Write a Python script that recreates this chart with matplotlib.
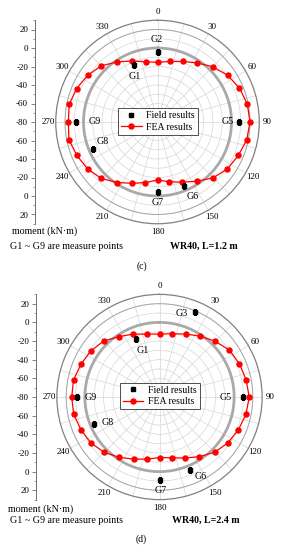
import numpy as np
import matplotlib
matplotlib.use('Agg')
import matplotlib.pyplot as plt

plt.rcParams['font.family'] = ['Liberation Serif', 'DejaVu Serif']

# FEA results, 32 points every 11.25 deg (clockwise from top)
fea_angles = np.arange(32) * 11.25
fea_c = [-15.5, -13.3, -9.2, -3.1, 4.4, 11.1, 15.9, 19.0, 20.0, 18.4, 14.6, 11.0,
         5.3, -3.0, -9.6, -14.1, -17.3, -13.2, -8.3, -1.3, 6.2, 11.0, 14.4, 17.6,
         16.4, 17.3, 14.6, 10.8, 5.9, -1.8, -8.6, -13.6]
fea_d = [-12.5, -10.9, -6.9, -1.6, 4.5, 10.2, 12.8, 14.6, 16.2, 14.5, 11.6, 8.3,
         3.7, -3.1, -9.2, -13.6, -15.0, -12.2, -7.9, -2.2, 3.9, 8.5, 11.3, 13.8,
         14.1, 13.9, 11.3, 8.6, 4.8, -2.1, -7.0, -11.3]

# field measurements
names_c = ['G1', 'G2', 'G5', 'G6', 'G7', 'G8', 'G9']
field_ang_c = [337.5, 0, 90, 157.5, 180, 247.5, 270]
field_c = [-13.2, -4.6, 8.4, -4.6, -4.6, -4.7, 8.1]

names_d = ['G1', 'G3', 'G5', 'G6', 'G7', 'G8', 'G9']
field_ang_d = [337.5, 22.5, 90, 157.5, 180, 247.5, 270]
field_d = [-12.9, 18.2, 9.2, 4.4, 8.5, -4.5, 8.1]

# label offsets (points) for the G labels
offs_c = [(0.5, -8), (-0.7, 9.5), (-8.5, 0), (6, -7), (0, -8), (7, 5), (13.5, 0)]
offs_d = [(5, -8), (-9, -0.7), (-12, 0), (8, -4.5), (0.7, -8), (9.5, 1), (10, 0)]

r_min, r_max = -80, 30
W, H = 282, 550

fig = plt.figure(figsize=(W / 100, H / 100), dpi=100)


def panel(cx, cy, scale, axis_x, fea, fang, fval, names, offs, tag, case, leg_xy, txt):
    R = (r_max - r_min) * scale
    ax = fig.add_axes([(cx - R) / W, 1 - (cy + R) / H, 2 * R / W, 2 * R / H], projection='polar')
    ax.set_theta_zero_location('N')
    ax.set_theta_direction(-1)
    ax.set_ylim(r_min, r_max)
    ax.set_rgrids(np.arange(-70, 30, 10), labels=[''] * 10)
    ax.set_thetagrids(np.arange(0, 360, 15), labels=[''] * 24)
    ax.grid(color='#d6d6d6', lw=0.5)
    ax.tick_params(length=0)
    ax.spines['polar'].set_color('#808080')
    ax.spines['polar'].set_linewidth(0.9)
    th = np.linspace(0, 2 * np.pi, 400)
    ax.plot(th, np.full_like(th, 20), color='#a8a8a8', lw=0.7)
    ax.plot(th, np.zeros_like(th), color='#a9a9a9', lw=2.0)
    for a in range(0, 360, 30):
        ax.text(np.deg2rad(a), 38.5, str(a), ha='center', va='center', fontsize=6.5, clip_on=False)

    t = np.deg2rad(np.append(fea_angles, fea_angles[0]))
    rr = np.append(fea, fea[0])
    ax.plot(t, rr, '-', color='red', lw=0.9, zorder=4)
    ax.plot(np.deg2rad(fea_angles), fea, 'o', color='red', ms=3.6, zorder=5)
    h1, = ax.plot(np.deg2rad(fang), fval, 's', color='black', ms=3.0, zorder=5, lw=0)
    for n, a, v, o in zip(names, fang, fval, offs):
        ax.annotate(n, (np.deg2rad(a), v), xytext=o, textcoords='offset points',
                    ha='center', va='center', fontsize=7.2)
    hl, = ax.plot([], [], 'o-', color='red', ms=3.6, lw=0.9)
    leg = ax.legend([h1, hl], ['Field results', 'FEA results'], loc='upper left',
                    bbox_to_anchor=(leg_xy[0] / W, 1 - leg_xy[1] / H), bbox_transform=fig.transFigure,
                    fontsize=7, frameon=True, fancybox=False, borderpad=0.3, handlelength=2.1,
                    handletextpad=0.5, labelspacing=0.25, borderaxespad=0)
    leg.get_frame().set_edgecolor('black')
    leg.get_frame().set_linewidth(0.6)

    # left linear moment scale
    la = fig.add_axes([axis_x / W, 1 - (cy + R) / H, 0.001, 2 * R / H])
    la.set_ylim(-(r_max - r_min), r_max - r_min)
    for s in ['top', 'right', 'bottom']:
        la.spines[s].set_visible(False)
    la.spines['left'].set_color('#707070')
    la.spines['left'].set_linewidth(0.7)
    la.set_xticks([])
    ticks = np.arange(-100, 101, 20)
    la.set_yticks(ticks)
    la.set_yticklabels([str(r_min + abs(v)) for v in ticks], fontsize=6.5)
    la.set_yticks(np.arange(-110, 111, 10), minor=True)
    la.tick_params(axis='y', which='major', length=3, width=0.6, color='#707070', pad=2, direction='out')
    la.tick_params(axis='y', which='minor', length=1.8, width=0.5, color='#707070', direction='out')
    la.patch.set_visible(False)

    fig.text(txt[0] / W, 1 - txt[1] / H, 'moment (kN·m)', fontsize=7.2, ha='left', va='center')
    fig.text(10.5 / W, 1 - txt[2] / H, 'G1 ~ G9 are measure points', fontsize=7.2,
             ha='left', va='center')
    fig.text(case[1] / W, 1 - txt[2] / H, case[0], fontsize=7.2, fontweight='bold',
             ha='left', va='center')
    fig.text(tag[1] / W, 1 - tag[2] / H, tag[0], fontsize=7, ha='center', va='center')


panel(157.5, 122, 0.925, 35, fea_c, field_ang_c, field_c, names_c, offs_c,
      ('(c)', 141.7, 266), ('WR40, L=1.2 m', 170.5), (118.3, 108.3), (11.7, 230.7, 246.7))
panel(159.5, 397, 0.933, 36, fea_d, field_ang_d, field_d, names_d, offs_d,
      ('(d)', 140.7, 539.3), ('WR40, L=2.4 m', 171.5), (120, 382.7), (8.3, 509.3, 520.7))

fig.savefig('out.png', dpi=100)
